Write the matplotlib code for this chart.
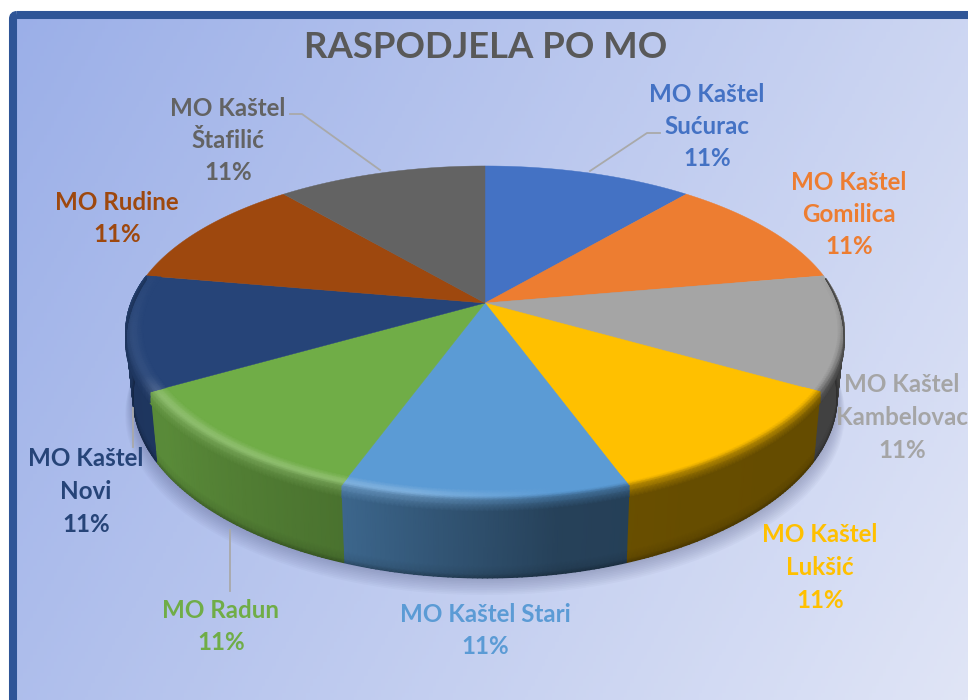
import numpy as np
import matplotlib
matplotlib.use("Agg")
import matplotlib.pyplot as plt
from matplotlib.colors import to_rgb
from matplotlib.patches import FancyBboxPatch

plt.rcParams['font.family'] = ['Lato', 'DejaVu Sans']

title = "RASPODJELA PO MO"
names = ["MO Kaštel\nSućurac", "MO Kaštel\nGomilica", "MO Kaštel\nKambelovac",
         "MO Kaštel\nLukšić", "MO Kaštel Stari", "MO Radun",
         "MO Kaštel\nNovi", "MO Rudine", "MO Kaštel\nŠtafilić"]
values = [11.11, 11.11, 11.11, 11.11, 11.11, 11.11, 11.11, 11.11, 11.11]
colors = ["#4472C4", "#ED7D31", "#A5A5A5", "#FFC000", "#5B9BD5",
          "#70AD47", "#264478", "#9E480E", "#636363"]

# label anchors in picture pixels, first line centre
label_x = [707, 849, 902, 820, 485, 221, 86, 117, 228]
label_y = [94, 182, 385, 535, 614, 610, 459, 202, 108]

# leader lines
leaders = [([590, 647, 660], [171, 133, 133]),
           ([380, 302, 290], [170, 114, 114]),
           ([133, 133], [408, 447]),
           ([230, 230], [530, 591])]

# perspective of the pie disc
CX, CY = 485, 303
RX, KX = 354, 0.17
RY, KY = 161.7, 0.18
# lower rim of the wall
WALL_Y, WALL_SX, WALL_SY = 367, 0.98, 1.07


def project(theta, r=1.0):
    """Clockwise angle from the top (radians) to picture x, y on the top face."""
    u = r * np.sin(theta)
    v = -r * np.cos(theta)
    return CX + RX * u / (1 - KX * v), CY + RY * v / (1 - KY * v)


def project_wall(theta):
    u = np.sin(theta)
    v = -np.cos(theta)
    return CX + WALL_SX * RX * u / (1 - KX * v), WALL_Y + WALL_SY * RY * v / (1 - KY * v)


def wall_shade(deg):
    return np.interp(deg, [90, 150, 170, 200, 235, 300],
                     [0.39, 0.40, 0.42, 0.66, 0.80, 0.72])


def highlight(deg):
    return np.interp(deg, [90, 170, 190, 238, 245, 285, 300],
                     [0.0, 0.0, 0.22, 0.22, 0.06, 0.04, 0.0])


def rim_fade(deg):
    return np.interp(deg, [80, 105, 262, 280], [0.0, 1.0, 1.0, 0.35])


fig = plt.figure(figsize=(9.68, 7.0), dpi=100)
ax = fig.add_axes([0, 0, 1, 1])

# background gradient and frame
yy, xx = np.mgrid[0:1:200j, 0:1:280j]
t = (xx * 0.72 + yy * 0.28)[..., None]
c0 = np.array([155, 175, 232]) / 255
c1 = np.array([224, 229, 246]) / 255
ax.imshow(c0 + (c1 - c0) * t, extent=(13, 968, 700, 15), aspect='auto', zorder=0)
ax.add_patch(FancyBboxPatch((13, 15), 975, 705, boxstyle="round,pad=0,rounding_size=4",
                            fc='none', ec='#2F5597', lw=5.8, zorder=1))

# soft shadow below the wall
ring = np.linspace(0, 2 * np.pi, 361)
rx, ry = project_wall(ring)
for i in range(1, 11):
    ax.fill(CX + (rx - CX) * (1 + i * 0.0022), ry + i * 1.7,
            color=(0.30, 0.33, 0.50), alpha=0.04, lw=0, zorder=2)

fractions = np.array(values) / np.sum(values)
edges = np.concatenate([[0], np.cumsum(fractions)]) * 2 * np.pi

# side walls, gouraud meshes so there are no seams
for start, stop, col in zip(edges[:-1], edges[1:], colors):
    a0, a1 = max(start, np.pi * 0.45), min(stop, np.pi * 1.55)
    if a1 <= a0:
        continue
    base = np.array(to_rgb(col))
    th = np.linspace(a0, a1, 60)
    deg = np.degrees(th)
    px, py = project(th)
    qx, qy = project_wall(th)
    s = np.array([0.0, 0.85, 0.96, 1.0])[:, None]
    X = px + (qx - px) * s
    Y = py + (qy - py) * s
    # darker towards the lower edge
    dark = np.array([1.0, 1.0, 0.90, 0.72])[:, None, None]
    C = base[None, None, :] * wall_shade(deg)[None, :, None] * dark
    ax.pcolormesh(X, Y, C, shading='gouraud', zorder=3)

# top face
for start, stop, col in zip(edges[:-1], edges[1:], colors):
    th = np.linspace(start, stop, 80)
    x, y = project(th)
    ax.fill(np.r_[CX, x], np.r_[CY, y], color=col, lw=0.3, zorder=4)

# rim bevel: from inside the top face, over the rim, a bit down the wall
radii = np.array([0.955, 0.97, 0.983, 0.992, 1.0, 1.0, 1.0])
drops = np.array([0.0, 0.0, 0.0, 0.0, 0.0, 5.0, 11.0])
mix = np.array([0.0, 0.7, 1.0, 0.75, 0.5, 0.8, 1.0])
for start, stop, col in zip(edges[:-1], edges[1:], colors):
    a0, a1 = max(start, np.pi * 0.45), min(stop, np.pi * 1.555)
    if a1 <= a0:
        continue
    base = np.array(to_rgb(col))
    th = np.linspace(a0, a1, 60)
    deg = np.degrees(th)
    X = np.zeros((len(radii), len(th)))
    Y = np.zeros((len(radii), len(th)))
    C = np.zeros((len(radii), len(th), 3))
    for i, (r, d, m) in enumerate(zip(radii, drops, mix)):
        x, y = project(th, r)
        X[i], Y[i] = x, y + d * rim_fade(deg)
        light = base + (1 - base) * highlight(deg)[:, None]
        side = base * wall_shade(deg)[:, None]
        if i <= 2:
            c = base + (light - base) * m
        else:
            # rim side: highlight turns into the wall colour
            k = (i - 2) / (len(radii) - 3)
            c = light + (side - light) * k
        f = rim_fade(deg)[:, None]
        C[i] = base + (c - base) * f if d == 0 else c
    ax.pcolormesh(X, Y, C, shading='gouraud', zorder=5)

for lx, ly in leaders:
    ax.plot(lx, ly, color='#A9A9A9', lw=1.3, zorder=6)

ax.text(486, 47, title, color='#595959', fontsize=26.3, fontweight='bold',
        ha='center', va='center', zorder=7)

for name, val, col, x, y in zip(names, fractions, colors, label_x, label_y):
    lines = name.split("\n") + [f"{val * 100:.0f}%"]
    for i, line in enumerate(lines):
        ax.text(x, y + i * 32.5, line, color=col, fontsize=17.4, fontweight='bold',
                ha='center', va='center', zorder=7)

ax.set_xlim(0, 968)
ax.set_ylim(700, 0)
ax.axis('off')
fig.savefig("out.png", dpi=100, facecolor='white')
